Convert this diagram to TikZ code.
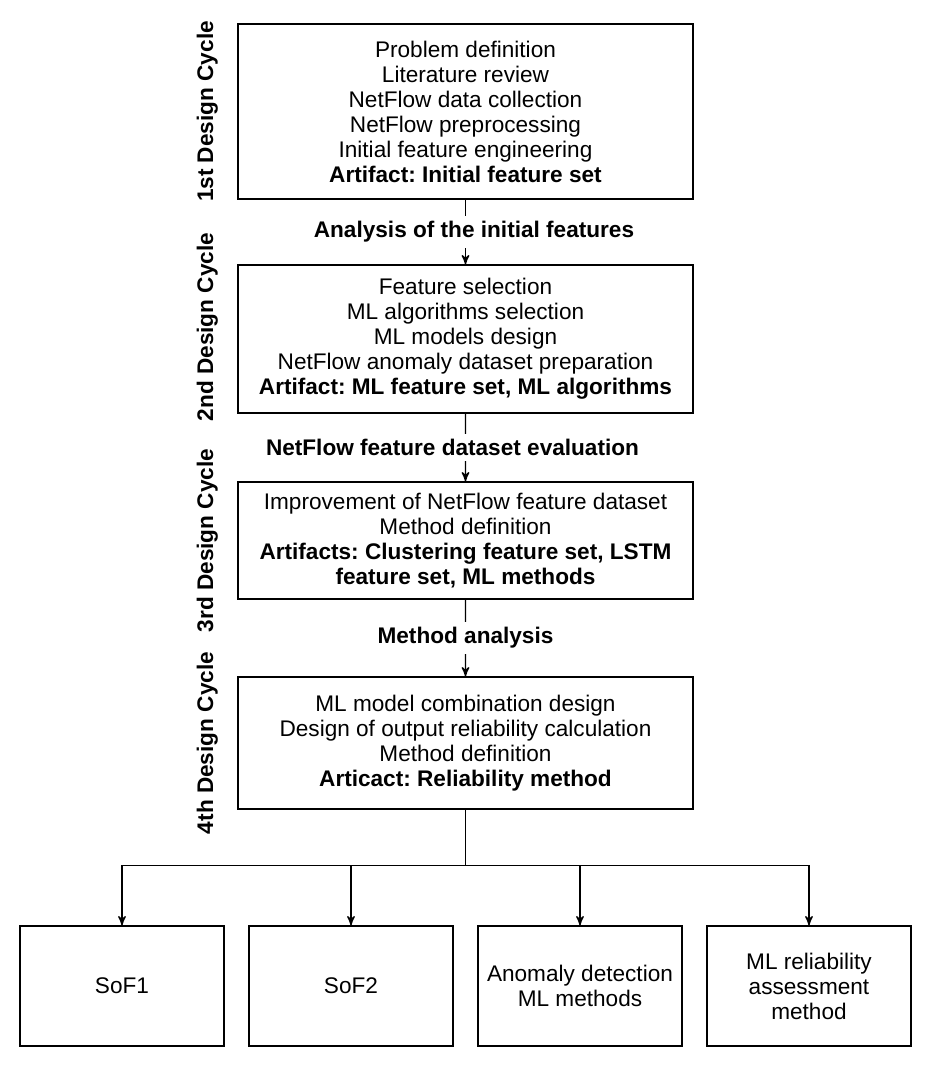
\documentclass[tikz,border=0pt]{standalone}
\usepackage{fontspec}
\setmainfont{Liberation Sans}
\frenchspacing
\usetikzlibrary{trees,arrows}
\tikzset{
  cyclebox/.style  = {shape=rectangle, draw, align=center,
                      minimum width=227.5pt, inner sep=4pt},
  outbox/.style    = {shape=rectangle, draw, align=center,
                      minimum width=102pt, minimum height=60pt, inner sep=3pt},
  flowlabel/.style = {fill=white, inner sep=2.5pt,
                      font=\bfseries\fontsize{11.3}{12.5}\selectfont},
  sidelabel/.style = {rotate=90, font=\bfseries\fontsize{11.3}{12.5}\selectfont}
}

\begin{document}
\begin{tikzpicture}
  [->,>=stealth', line width=0.7pt,
   every node/.style = {font=\fontsize{11.3}{12.5}\selectfont},
   level 1/.style = {level distance=113.75pt},
   level 2/.style = {level distance=100.75pt},
   level 3/.style = {level distance=101.25pt},
   level 4/.style = {level distance=121.5pt, sibling distance=114.5pt,
     edge from parent path={(\tikzparentnode.south) -- +(0,-28pt)
                            -| (\tikzchildnode.north)}}]
  \useasboundingbox (-232.75pt,55.75pt) rectangle (234.75pt,-480.25pt);
  \node [cyclebox, minimum height=87.5pt] (cyc1)
    {Problem definition\\ Literature review\\ NetFlow data collection\\
     NetFlow preprocessing\\ Initial feature engineering\\
     \textbf{Artifact: Initial feature set}}
    child { node [cyclebox, minimum height=74pt] (cyc2)
      {Feature selection\\ ML algorithms selection\\ ML models design\\
       NetFlow anomaly dataset preparation\\
       \textbf{Artifact: ML feature set, ML algorithms}}
      child { node [cyclebox, minimum height=58.5pt] (cyc3)
        {Improvement of NetFlow feature dataset\\ Method definition\\
         \textbf{Artifacts: Clustering feature set, LSTM}\\
         \textbf{feature set, ML methods}}
        child { node [cyclebox, minimum height=66pt] (cyc4)
          {ML model combination design\\
           Design of output reliability calculation\\ Method definition\\
           \textbf{Articact: Reliability method}}
          child { node [outbox] (sof1) {SoF1} }
          child { node [outbox] (sof2) {SoF2} }
          child { node [outbox] (anomaly) {Anomaly detection\\ ML methods} }
          child { node [outbox] (relmethod) {ML reliability\\ assessment\\ method} }
          edge from parent node [flowlabel] {Method analysis} }
        edge from parent node [flowlabel, xshift=-6.5pt]
          {NetFlow feature dataset evaluation} }
      edge from parent node [flowlabel, xshift=4.25pt]
        {Analysis of the initial features} };
  % cycle names on the left
  \node [sidelabel] at ([xshift=-15pt]cyc1.west) {1st Design Cycle};
  \node [sidelabel] at ([xshift=-15pt,yshift=6pt]cyc2.west) {2nd Design Cycle};
  \node [sidelabel] at ([xshift=-15pt]cyc3.west) {3rd Design Cycle};
  \node [sidelabel] at ([xshift=-15pt]cyc4.west) {4th Design Cycle};
\end{tikzpicture}
\end{document}
